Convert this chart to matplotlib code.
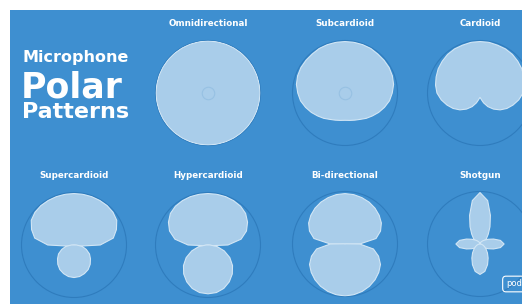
import numpy as np
import matplotlib
matplotlib.use("Agg")
import matplotlib.pyplot as plt
from matplotlib.patches import Rectangle

# polar patterns, radius every 10 deg (front = 0, rear = 180)
angles = np.arange(0, 181, 10)

omni = [0.99] * 19
subcardioid = [0.98, 0.98, 0.98, 0.98, 0.97, 0.97, 0.97, 0.96, 0.94, 0.90,
               0.86, 0.80, 0.74, 0.68, 0.63, 0.58, 0.55, 0.53, 0.52]
cardioid = [0.98, 0.98, 0.97, 0.97, 0.96, 0.94, 0.92, 0.89, 0.86, 0.82,
            0.75, 0.67, 0.59, 0.50, 0.40, 0.30, 0.20, 0.12, 0.08]
super_front = [0.98, 0.98, 0.98, 0.98, 0.98, 0.97, 0.94, 0.86, 0.76, 0.50,
               0.12, 0, 0, 0, 0, 0, 0, 0, 0]
super_rear = [0, 0, 0, 0, 0, 0, 0, 0, 0, 0.05,
              0.16, 0.25, 0.34, 0.41, 0.48, 0.54, 0.58, 0.61, 0.62]
hyper_front = [0.98, 0.98, 0.98, 0.975, 0.965, 0.935, 0.87, 0.78, 0.64, 0.38,
               0.07, 0, 0, 0, 0, 0, 0, 0, 0]
hyper_rear = [0, 0, 0, 0, 0, 0, 0, 0, 0, 0.04,
              0.18, 0.33, 0.48, 0.61, 0.72, 0.81, 0.88, 0.92, 0.93]
bi_front = [0.96, 0.955, 0.94, 0.92, 0.89, 0.85, 0.80, 0.72, 0.60, 0.28,
            0.02, 0, 0, 0, 0, 0, 0, 0, 0]
bi_rear = [0, 0, 0, 0, 0, 0, 0, 0, 0.02, 0.28,
           0.55, 0.68, 0.78, 0.84, 0.89, 0.93, 0.96, 0.98, 0.99]
shotgun_front = [0.98, 0.84, 0.58, 0.38, 0.245, 0.16, 0.10, 0.06, 0.03, 0,
                 0, 0, 0, 0, 0, 0, 0, 0, 0]
shotgun_side = [0, 0.015, 0.03, 0.049, 0.077, 0.117, 0.18, 0.275, 0.395, 0.46,
                0.395, 0.275, 0.18, 0.117, 0.077, 0.049, 0.03, 0.015, 0]
shotgun_rear = [0, 0, 0, 0, 0, 0, 0, 0, 0, 0,
                0.03, 0.06, 0.10, 0.15, 0.22, 0.31, 0.42, 0.53, 0.58]

names = ["Omnidirectional", "Subcardioid", "Cardioid",
         "Supercardioid", "Hypercardioid", "Bi-directional", "Shotgun"]
lobes = [[omni], [subcardioid], [cardioid],
         [super_front, super_rear], [hyper_front, hyper_rear],
         [bi_front, bi_rear], [shotgun_front, shotgun_side, shotgun_rear]]
capsule = [True, True, False, False, False, False, False]

# centres of each diagram in pixels
centres = [(208, 93), (345, 93), (480, 93),
           (74, 245), (208, 245), (345, 244), (480, 244)]
label_y = [23, 23, 23, 176, 176, 176, 176]

W, H = 522, 304
BG = "#3e8fd0"
FILL = "#a9cdea"
EDGE = "#d2e6f5"
RING = "#2f7cbd"

fig = plt.figure(figsize=(W / 100, H / 100), dpi=100)
fig.patch.set_facecolor("white")
fig.patches.append(Rectangle((10 / W, 0), 1, 1 - 10 / H, transform=fig.transFigure,
                             facecolor=BG, edgecolor="none", zorder=-5))

R = 52.5
theta = np.deg2rad(np.concatenate([angles, -angles[::-1]]))

for name, parts, (cx, cy), ly, cap in zip(names, lobes, centres, label_y, capsule):
    ax = fig.add_axes([(cx - R) / W, 1 - (cy + R) / H, 2 * R / W, 2 * R / H],
                      projection="polar")
    ax.set_zorder(2)
    ax.set_theta_zero_location("N")
    ax.set_ylim(0, 1)
    ax.patch.set_alpha(0)
    ax.grid(False)
    ax.set_xticks([])
    ax.set_yticks([])
    ax.spines["polar"].set_color(RING)
    ax.spines["polar"].set_linewidth(0.8)
    for r in parts:
        rr = np.concatenate([r, r[::-1]])
        ax.fill(theta, rr, facecolor=FILL, edgecolor=EDGE, linewidth=0.8,
                zorder=3)
    if cap:
        ax.plot([0], [0], marker="o", ms=9, mfc="none", mec="#97c1e3", mew=0.8,
                zorder=4)
    fig.text(cx / W, 1 - ly / H, name, color="white", fontsize=6.3,
             fontweight="bold", ha="center", va="center")

fig.text(23 / W, 1 - 62 / H, "Microphone", color="white", fontsize=11.5,
         fontweight="bold", ha="left", va="baseline")
fig.text(21 / W, 1 - 97 / H, "Polar", color="white", fontsize=25,
         fontweight="bold", ha="left", va="baseline")
fig.text(22 / W, 1 - 118 / H, "Patterns", color="white", fontsize=16,
         fontweight="bold", ha="left", va="baseline")

fig.text(506 / W, 1 - 284 / H, "pod", color="white", fontsize=6,
         ha="left", va="center",
         bbox=dict(boxstyle="round,pad=0.4", fc="none", ec="white", lw=0.8))

fig.savefig("out.png", dpi=100)
